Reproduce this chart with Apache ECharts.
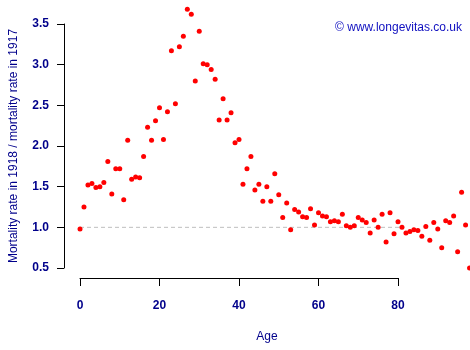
<!DOCTYPE html>
<html>
<head>
<meta charset="utf-8">
<script src="https://cdn.jsdelivr.net/npm/echarts@6/dist/echarts.min.js"></script>
<style>html,body{margin:0;padding:0;background:#fff}#c{width:470px;height:350px}</style>
</head>
<body>
<div id="c"></div>
<script>
const ages = [];
for (let a = 0; a <= 98; a++) ages.push(a);
const ratios = [
  0.98, 1.25, 1.52, 1.54, 1.49, 1.50, 1.55, 1.81, 1.41, 1.72,
  1.72, 1.34, 2.07, 1.59, 1.62, 1.61, 1.87, 2.23, 2.07, 2.31,
  2.47, 2.08, 2.42, 3.17, 2.52, 3.22, 3.35, 3.68, 3.62, 2.80,
  3.41, 3.01, 3.00, 2.94, 2.82, 2.32, 2.58, 2.32, 2.41, 2.04,
  2.08, 1.53, 1.72, 1.87, 1.46, 1.53, 1.32, 1.50, 1.32, 1.66,
  1.40, 1.12, 1.30, 0.97, 1.22, 1.19, 1.13, 1.12, 1.23, 1.03,
  1.18, 1.14, 1.13, 1.07, 1.08, 1.07, 1.16, 1.02, 1.00, 1.02,
  1.12, 1.09, 1.06, 0.93, 1.09, 1.00, 1.16, 0.82, 1.18, 0.92,
  1.07, 1.00, 0.93, 0.95, 0.97, 0.96, 0.89, 1.01, 0.84, 1.06,
  0.98, 0.75, 1.08, 1.06, 1.14, 0.70, 1.43, 1.03, 0.50
];
const refLevel = 1.0;
const refAges = [0, 97];
const xTicks = [0, 20, 40, 60, 80];
const yTicks = [0.5, 1.0, 1.5, 2.0, 2.5, 3.0, 3.5];
const labelColor = '#00008B';
const font = 'Liberation Sans, Arial, sans-serif';

const chart = echarts.init(document.getElementById('c'), null, {renderer: 'canvas'});
chart.setOption({
  animation: false,
  backgroundColor: '#fff',
  textStyle: {fontFamily: font},
  title: {
    text: '\u00a9 www.longevitas.co.uk',
    right: 3, top: 17,
    textStyle: {color: '#1010C0', fontSize: 12, fontWeight: 'normal', fontFamily: font}
  },
  grid: {left: 78, top: 24, width: 320, height: 244},
  xAxis: {
    type: 'value', min: xTicks[0], max: xTicks[xTicks.length - 1], interval: 20,
    offset: 10,
    name: 'Age', nameLocation: 'middle', nameGap: 53,
    nameTextStyle: {color: labelColor, fontSize: 12, fontFamily: font, padding: [0, 0, 0, 56]},
    axisLine: {show: true, onZero: false, lineStyle: {color: '#000000', width: 1}},
    axisTick: {show: true, inside: false, length: 8, lineStyle: {color: '#000000', width: 1}},
    axisLabel: {show: true, margin: 22, color: labelColor, fontSize: 12, fontWeight: 'bold', fontFamily: font},
    splitLine: {show: false}
  },
  yAxis: {
    type: 'value', min: yTicks[0], max: yTicks[yTicks.length - 1], interval: 0.5,
    offset: 16,
    name: 'Mortality rate in 1918 / mortality rate in 1917',
    nameLocation: 'middle', nameGap: 44,
    nameTextStyle: {color: labelColor, fontSize: 12, fontFamily: font},
    axisLine: {show: true, onZero: false, lineStyle: {color: '#000000', width: 1}},
    axisTick: {show: true, inside: false, length: 7, lineStyle: {color: '#000000', width: 1}},
    axisLabel: {show: true, margin: 15, color: labelColor, fontSize: 12, fontWeight: 'bold', fontFamily: font,
      formatter: v => v.toFixed(1)},
    splitLine: {show: false}
  },
  series: [
    {
      type: 'line',
      data: refAges.map(a => [a, refLevel]),
      symbol: 'none', silent: true, clip: false,
      lineStyle: {color: '#BEBEBE', width: 1, type: [4, 3], opacity: 1},
      z: 1
    },
    {
      type: 'scatter',
      data: ages.map((a, i) => [a, ratios[i]]),
      symbol: 'circle', symbolSize: 5, clip: false,
      itemStyle: {color: '#FF0000', opacity: 1},
      z: 2
    }
  ]
});
</script>
</body>
</html>
